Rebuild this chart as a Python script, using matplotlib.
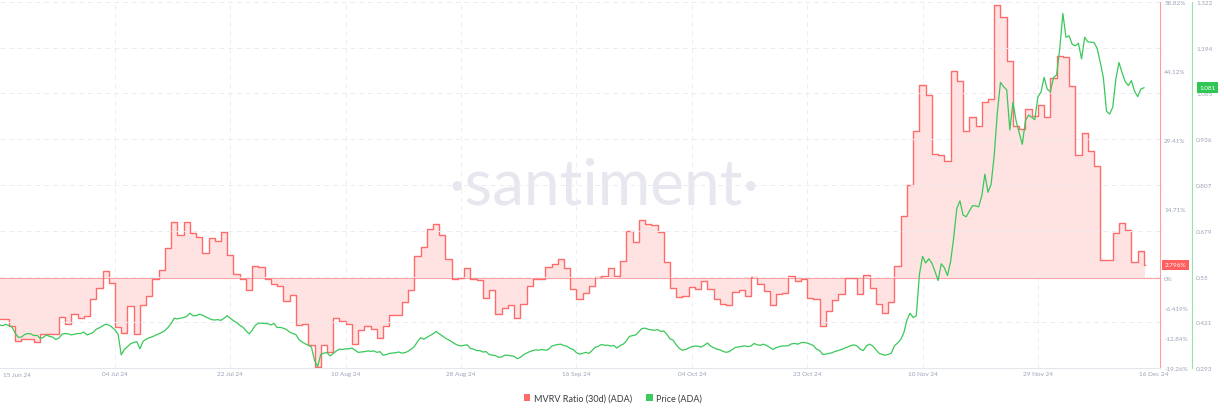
import matplotlib
matplotlib.use("Agg")
import matplotlib.pyplot as plt
import numpy as np
from matplotlib.patches import Patch
from matplotlib.transforms import blended_transform_factory

# ---------------- data ----------------
# MVRV Ratio (30d) in %, one value per day starting 15 Jun 2024
mvrv = [
    -8.7, -8.7, -10.2, -13.4, -13.0, -13.0, -13.7, -11.9, -12.1, -12.1,
    -8.4, -9.8, -7.7, -8.5, -8.2, -4.5, -2.1, 1.35, -1.07, -10.5,
    -11.7, -6.1, -11.9, -5.9, -3.9, -0.2, 1.56, 6.3, 11.9, 9.2,
    11.9, 9.6, 8.7, 5.3, 8.5, 7.8, 9.7, 4.8, 0.85, -0.2,
    -2.7, 2.5, 2.3, -0.35, -1.3, -1.85, -4.9, -3.6, -10.0,
    -9.95, -14.4, -19.0, -14.4, -15.8, -8.6, -9.3, -9.8, -14.2, -11.1,
    -10.4, -11.0, -12.9, -10.4, -8.0, -8.0, -5.2, -2.7, 4.55, 6.5,
    10.4, 11.4, 9.2, 4.05, -0.2, -0.07, 2.1, -0.35, -0.57, -4.3,
    -2.7, -7.7, -6.5, -5.9, -8.6, -5.5, -1.85, -0.35, -0.35, 2.3,
    3.0, 4.05, 2.1, -2.35, -4.5, -3.3, -1.8, 0.14,
    0.28, 2.06, 0.28, 3.55, 9.9, 7.6, 12.4, 11.5, 11.2, 9.7,
    3.3, -2.1, -4.2, -3.8, -2.06, -2.35, -0.7, -2.5, -4.5, -5.5,
    -5.8, -3.05, -2.56, -4.0, 0.2, -1.3, -2.9, -5.8, -3.4, -3.3,
    0.28, -0.8, -0.2, -4.3, -4.5, -10.3, -7.2, -4.8, -3.4, 0.0,
    -0.07, -3.55, 0.5, -2.1, -5.5, -7.5, -5.2, 2.6, 13.1,
    19.7, 31.2, 41.2, 38.9, 26.4, 26.2, 24.9, 44.1, 41.9, 31.4,
    34.2, 32.3, 37.5, 38.2, 58.1, 55.6, 46.3, 32.3, 31.8, 36.0,
    34.6, 36.9, 34.3, 42.7, 47.4, 47.0, 40.9, 26.1, 30.9, 27.1,
    23.8, 3.7, 3.8, 9.5, 11.7, 10.1, 3.3, 5.7, 2.796,
]

# ADA price (USD), every 12 hours from 15 Jun 2024 to 16 Dec 2024
price = [
    0.414, 0.414, 0.412, 0.416, 0.412, 0.408, 0.391, 0.379, 0.380, 0.387,
    0.390, 0.389, 0.384, 0.385, 0.376, 0.379, 0.386, 0.382, 0.380, 0.373,
    0.377, 0.388, 0.390, 0.389, 0.386, 0.388, 0.390, 0.390, 0.394, 0.386,
    0.389, 0.393, 0.402, 0.406, 0.411, 0.416, 0.414, 0.408, 0.400, 0.388,
    0.330, 0.345, 0.353, 0.361, 0.365, 0.367, 0.347, 0.368, 0.374, 0.378,
    0.381, 0.385, 0.389, 0.393, 0.398, 0.407, 0.418, 0.433, 0.431, 0.433,
    0.435, 0.438, 0.447, 0.440, 0.440, 0.444, 0.442, 0.437, 0.433, 0.429,
    0.428, 0.429, 0.427, 0.433, 0.440, 0.433, 0.426, 0.421, 0.413, 0.408,
    0.398, 0.389, 0.399, 0.413, 0.419, 0.419, 0.418, 0.418, 0.414, 0.418,
    0.407, 0.407, 0.405, 0.401, 0.394, 0.390, 0.387, 0.373,
    0.366, 0.361,
    0.357, 0.352, 0.314, 0.297, 0.331, 0.335, 0.336, 0.327, 0.334, 0.341,
    0.346, 0.345, 0.347, 0.347, 0.349, 0.343, 0.337, 0.338, 0.339, 0.341,
    0.340, 0.341, 0.337, 0.339, 0.329, 0.331, 0.334, 0.335, 0.336, 0.338,
    0.335, 0.336, 0.340, 0.346, 0.353, 0.367, 0.378, 0.374, 0.379, 0.384,
    0.389, 0.396, 0.389, 0.383, 0.377, 0.372, 0.367, 0.361, 0.357, 0.355,
    0.357, 0.358, 0.348, 0.346, 0.342, 0.342, 0.338, 0.339, 0.331, 0.329,
    0.328, 0.323, 0.324, 0.329, 0.329, 0.327, 0.326, 0.319, 0.323, 0.330,
    0.335, 0.339, 0.342, 0.344, 0.343, 0.345, 0.343, 0.345, 0.354, 0.357,
    0.359, 0.360, 0.356, 0.354, 0.348, 0.345, 0.336, 0.332, 0.334, 0.337,
    0.334, 0.342, 0.351, 0.354,
    0.359, 0.357, 0.357, 0.355, 0.356, 0.349,
    0.356, 0.360, 0.369, 0.382, 0.384, 0.386, 0.395, 0.404, 0.405, 0.402,
    0.400, 0.399, 0.401, 0.396, 0.397, 0.388, 0.375, 0.371, 0.358, 0.348,
    0.343, 0.345, 0.349, 0.353, 0.355, 0.354, 0.352, 0.357, 0.363, 0.355,
    0.350, 0.346, 0.344, 0.340, 0.337, 0.339, 0.345, 0.351, 0.352, 0.354,
    0.355, 0.353, 0.355, 0.362, 0.358, 0.357, 0.360, 0.356, 0.351, 0.345,
    0.350, 0.353, 0.355, 0.355, 0.356, 0.361, 0.362, 0.360, 0.364, 0.365,
    0.363, 0.360, 0.356, 0.346, 0.342, 0.331, 0.332, 0.334, 0.336, 0.340,
    0.342, 0.345, 0.349, 0.352, 0.356, 0.358, 0.355, 0.346, 0.342, 0.355,
    0.360, 0.355, 0.345, 0.335, 0.331, 0.329,
    0.331, 0.335, 0.356, 0.363,
    0.373, 0.392, 0.428, 0.447, 0.435, 0.440, 0.556, 0.607, 0.588, 0.600,
    0.588, 0.564, 0.539, 0.586, 0.575, 0.553, 0.592,
    0.660, 0.742, 0.763,
    0.723, 0.718, 0.734, 0.749, 0.749, 0.746, 0.777, 0.838, 0.787, 0.810,
    0.892, 1.012, 1.096, 1.084, 1.075, 0.962, 1.040, 0.988, 0.954, 0.922,
    0.988, 1.004, 0.998, 0.991, 1.055, 1.069, 1.110, 1.077, 1.070, 1.109,
    1.117, 1.190, 1.290, 1.223, 1.227, 1.203, 1.199, 1.206, 1.162, 1.223,
    1.210, 1.209, 1.208, 1.192, 1.152, 1.109, 1.015, 1.007, 1.026, 1.105,
    1.152, 1.123, 1.098, 1.087, 1.101, 1.071, 1.056, 1.077, 1.081,
]

price_span_days = 184.0

# x tick positions in days since 15 Jun 2024 and their labels
date_ticks = [19, 37.5, 56, 74.5, 93, 111.5, 130, 148.5, 167, 185.5]
date_labels = ["04 Jul 24", "22 Jul 24", "10 Aug 24", "28 Aug 24", "16 Sep 24",
               "04 Oct 24", "23 Oct 24", "10 Nov 24", "29 Nov 24", "16 Dec 24"]
first_label = "15 Jun 24"

mvrv_ticks = [-19.26, -12.84, -6.419, 0, 14.71, 29.41, 44.12, 58.82]
mvrv_tick_labels = ["-19.26%", "-12.84%", "-6.419%", "0%", "14.71%", "29.41%",
                    "44.12%", "58.82%"]
price_ticks = [0.293, 0.421, 0.55, 0.679, 0.807, 0.936, 1.065, 1.194, 1.322]
price_tick_labels = ["0.293", "0.421", "0.55", "0.679", "0.807", "0.936",
                     "1.065", "1.194", "1.322"]

# ---------------- style ----------------
plt.rcParams["font.family"] = ["Lato", "DejaVu Sans"]
RED = "#ff6b6b"
RED_FILL = "#ffe3e3"
GREEN = "#39c85a"
TICK_COL = "#9aa2b6"

W, H = 1224, 414
fig = plt.figure(figsize=(W / 100, H / 100), dpi=100)
ax = fig.add_axes([0, 1 - 369 / H, 1160 / W, 366 / H])
ax2 = ax.twinx()

# watermark
ax.text(604 / 1160, (369 - 205) / 366, "·santiment·", transform=ax.transAxes,
        ha="center", va="baseline", fontsize=46, color="#e7e8ef",
        fontweight="normal", zorder=0)

# MVRV step area
xm = np.arange(len(mvrv), dtype=float)
xs = np.append(xm, xm[-1] + 0.25)
ys = np.append(np.array(mvrv), mvrv[-1])
ax.fill_between(xs, 0, ys, step="post", color=RED_FILL, lw=0, zorder=1)
ax.axhline(0, color="#ffa3a3", lw=0.8, zorder=2)
ax.step(xs, ys, where="post", color=RED, lw=1.0, zorder=3)

# price line
px = np.linspace(0, price_span_days, len(price))
ax2.plot(px, price, color=GREEN, lw=0.9, zorder=3)

ax.set_xlim(0.56, 186.58)
ax.set_ylim(-19.26, 58.82)
ax2.set_ylim(0.293, 1.322)

# vertical dashed grid
for t in date_ticks[:-1]:
    ax.axvline(t, color="#eceef3", lw=0.7, ls=(0, (5, 4)), zorder=0)

ax.set_xticks(date_ticks)
ax.set_xticklabels(date_labels)
ax.tick_params(axis="x", length=0, pad=2.5, labelsize=4.6, labelcolor=TICK_COL)
ax.text(3 / 1160, -0.012, first_label, transform=ax.transAxes, ha="left",
        va="top", fontsize=4.6, color=TICK_COL)

ax.yaxis.tick_right()
ax.set_yticks(mvrv_ticks)
ax.set_yticklabels(mvrv_tick_labels)
ax.tick_params(axis="y", length=0, pad=3, labelsize=4.6, labelcolor=TICK_COL)

ax2.set_yticks(price_ticks)
ax2.set_yticklabels(price_tick_labels)
ax2.tick_params(axis="y", length=0, pad=3, labelsize=4.6, labelcolor=TICK_COL)
ax2.grid(axis="y", color="#eaecf2", lw=0.7, ls=(0, (5, 4)))
ax2.set_axisbelow(False)

for s in ["top", "left"]:
    ax.spines[s].set_visible(False)
ax.spines["bottom"].set_color("#e3e6ec")
ax.spines["bottom"].set_linewidth(0.8)
ax.spines["right"].set_color("#ff9c9c")
ax.spines["right"].set_linewidth(0.8)
for s in ["top", "left", "bottom"]:
    ax2.spines[s].set_visible(False)
ax2.spines["right"].set_position(("axes", 1192 / 1160))
ax2.spines["right"].set_color("#98e2a8")
ax2.spines["right"].set_linewidth(0.8)

# last-value labels
tr1 = blended_transform_factory(ax.transAxes, ax.transData)
ax.text(1175.5 / 1160, mvrv[-1], f"{mvrv[-1]:.3f}%", transform=tr1,
        ha="center", va="center", fontsize=4.6, color="white", clip_on=False,
        zorder=10, bbox=dict(boxstyle="square,pad=0.4", fc="#ff5f5f", ec="none"))
tr2 = blended_transform_factory(ax2.transAxes, ax2.transData)
ax2.text(1207.5 / 1160, price[-1], f"{price[-1]:.3f}", transform=tr2,
         ha="center", va="center", fontsize=4.6, color="white", clip_on=False,
         zorder=10, bbox=dict(boxstyle="square,pad=0.45", fc="#2fc655", ec="none"))

# legend
handles = [Patch(fc=RED, ec="none", label="MVRV Ratio (30d) (ADA)"),
           Patch(fc="#3ccb5c", ec="none", label="Price (ADA)")]
fig.legend(handles=handles, loc="center", bbox_to_anchor=(613 / W, 1 - 399 / H),
           ncol=2, frameon=False, fontsize=6.5, handlelength=0.7,
           handleheight=0.7, handletextpad=0.4, columnspacing=1.6,
           labelcolor="#3a3c42")

fig.savefig("out.png", dpi=100)
